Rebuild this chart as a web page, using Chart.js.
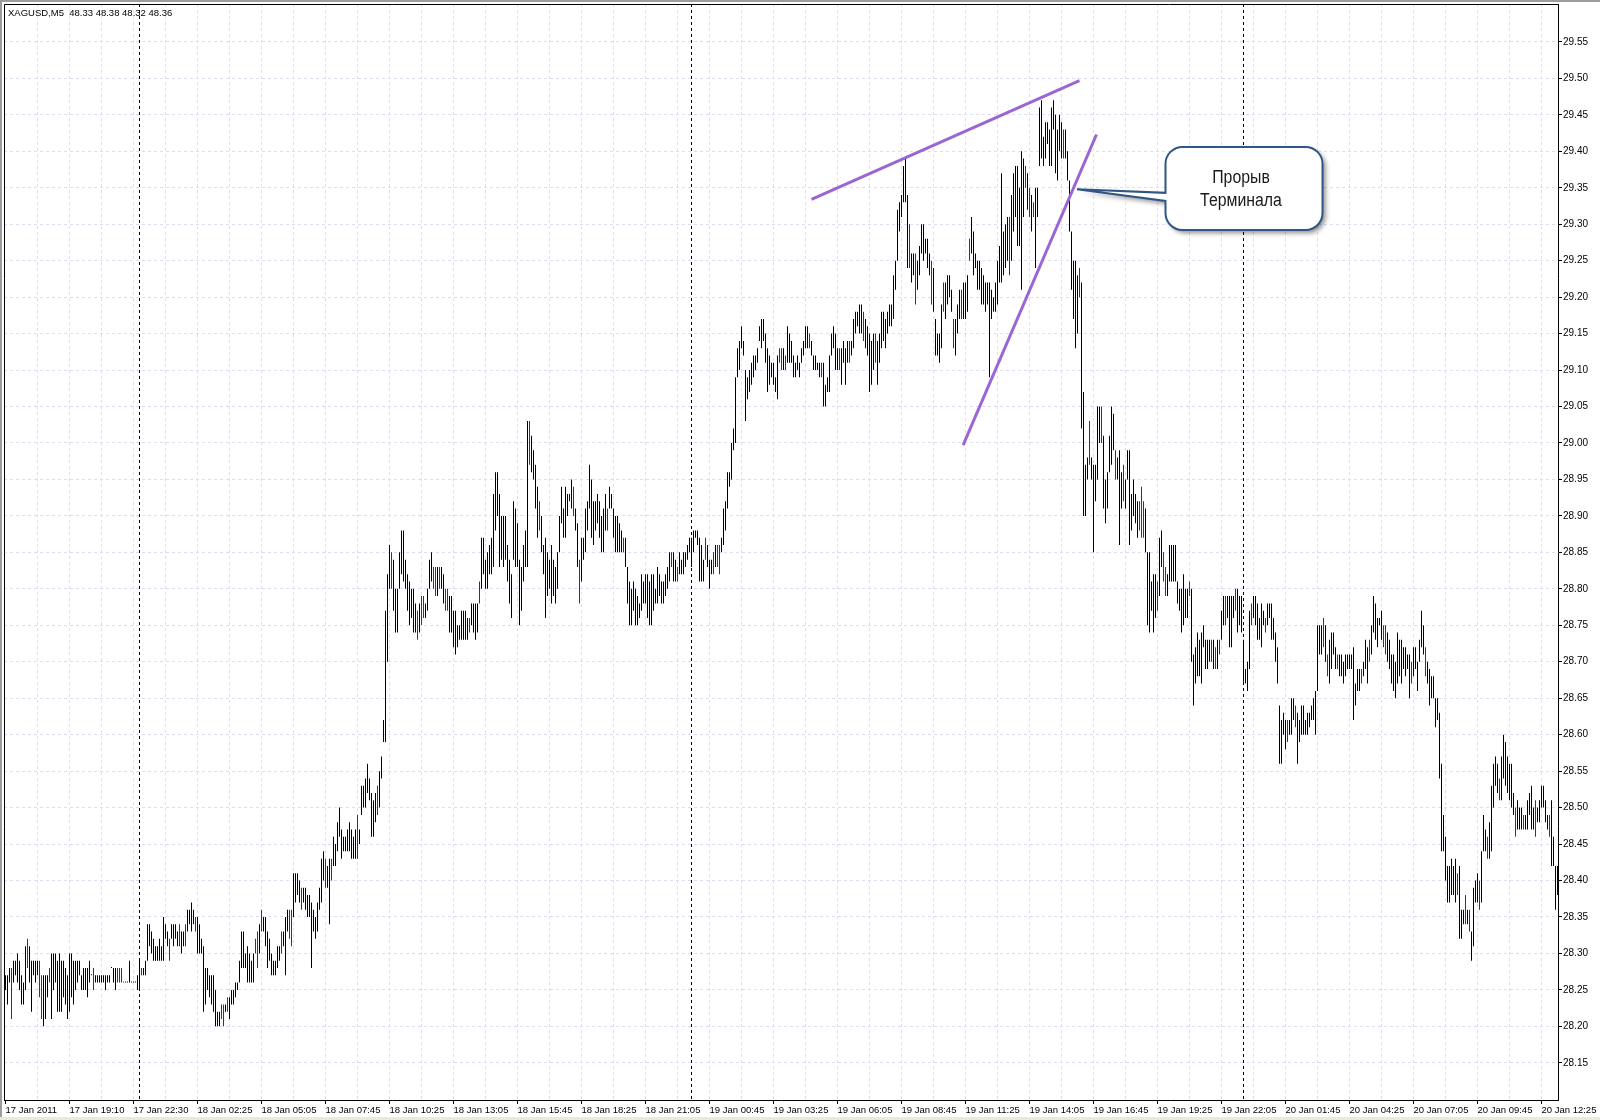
<!DOCTYPE html>
<html>
<head>
<meta charset="utf-8">
<title>XAGUSD,M5</title>
<script src="https://cdn.jsdelivr.net/npm/chart.js@4.4.1/dist/chart.umd.min.js"></script>
<style>
  html, body { margin: 0; padding: 0; background: #fff; overflow: hidden; }
  canvas { display: block; }
</style>
</head>
<body>
<canvas id="chart" width="1600" height="1120"></canvas>
<script>
// bar highs / lows, one value per bar, 16 bars per row
const highs = [
  28.27,28.27,28.28,28.28,28.29,28.29,28.30,28.29,28.27,28.26,28.31,28.32,28.31,28.29,28.29,28.29,
  28.29,28.29,28.27,28.27,28.27,28.27,28.28,28.30,28.30,28.30,28.29,28.30,28.29,28.29,28.28,28.27,
  28.30,28.30,28.29,28.29,28.29,28.29,28.27,28.28,28.28,28.28,28.29,28.27,28.28,28.27,28.27,28.27,
  28.27,28.27,28.27,28.27,28.27,28.28,28.28,28.28,28.28,28.28,28.28,28.26,28.26,28.26,28.29,28.26,
  28.26,28.26,28.27,28.29,28.28,28.28,28.29,28.34,28.34,28.33,28.32,28.31,28.31,28.32,28.31,28.35,
  28.34,28.33,28.32,28.34,28.34,28.34,28.33,28.34,28.33,28.33,28.34,28.36,28.36,28.37,28.36,28.35,
  28.35,28.34,28.32,28.31,28.28,28.28,28.27,28.27,28.27,28.25,28.22,28.22,28.23,28.23,28.23,28.24,
  28.24,28.25,28.25,28.26,28.26,28.29,28.33,28.33,28.30,28.31,28.30,28.29,28.30,28.32,28.33,28.34,
  28.36,28.35,28.35,28.33,28.32,28.30,28.29,28.29,28.31,28.31,28.33,28.33,28.35,28.36,28.36,28.36,
  28.41,28.41,28.41,28.40,28.39,28.39,28.39,28.38,28.38,28.37,28.36,28.35,28.37,28.39,28.43,28.44,
  28.43,28.42,28.43,28.43,28.46,28.45,28.48,28.50,28.47,28.46,28.46,28.47,28.48,28.47,28.46,28.47,
  28.49,28.47,28.53,28.53,28.54,28.56,28.54,28.52,28.51,28.52,28.53,28.55,28.57,28.62,28.77,28.82,
  28.86,28.85,28.84,28.80,28.80,28.85,28.88,28.88,28.84,28.82,28.81,28.80,28.80,28.78,28.77,28.78,
  28.79,28.79,28.78,28.80,28.84,28.85,28.83,28.83,28.83,28.83,28.83,28.82,28.80,28.80,28.79,28.79,
  28.77,28.77,28.75,28.75,28.77,28.77,28.77,28.76,28.76,28.78,28.78,28.78,28.78,28.81,28.87,28.87,
  28.84,28.85,28.86,28.87,28.93,28.96,28.96,28.93,28.90,28.90,28.90,28.86,28.84,28.82,28.92,28.91,
  28.89,28.84,28.83,28.86,28.88,29.03,29.03,29.01,28.99,28.97,28.94,28.92,28.90,28.86,28.87,28.85,
  28.84,28.86,28.84,28.83,28.85,28.90,28.94,28.91,28.94,28.93,28.93,28.95,28.94,28.91,28.89,28.84,
  28.87,28.87,28.91,28.92,28.97,28.95,28.92,28.92,28.93,28.92,28.90,28.91,28.93,28.91,28.94,28.93,
  28.91,28.90,28.90,28.89,28.88,28.87,28.87,28.83,28.81,28.80,28.81,28.80,28.79,28.78,28.82,28.81,
  28.82,28.82,28.81,28.82,28.82,28.80,28.83,28.82,28.81,28.81,28.82,28.83,28.85,28.85,28.85,28.84,
  28.83,28.85,28.84,28.85,28.85,28.86,28.87,28.87,28.88,28.88,28.88,28.87,28.86,28.84,28.87,28.86,
  28.84,28.84,28.85,28.86,28.86,28.86,28.87,28.91,28.92,28.96,28.96,29.00,29.02,29.09,29.13,29.14,
  29.16,29.14,29.10,29.09,29.10,29.11,29.12,29.12,29.13,29.16,29.17,29.17,29.15,29.13,29.12,29.11,
  29.11,29.09,29.12,29.13,29.13,29.13,29.12,29.16,29.15,29.14,29.12,29.11,29.12,29.11,29.13,29.14,
  29.16,29.16,29.15,29.14,29.12,29.12,29.11,29.11,29.11,29.11,29.08,29.09,29.12,29.15,29.16,29.15,
  29.13,29.13,29.13,29.14,29.13,29.14,29.14,29.14,29.17,29.18,29.18,29.19,29.19,29.18,29.17,29.16,
  29.15,29.14,29.15,29.15,29.14,29.15,29.18,29.18,29.17,29.18,29.19,29.19,29.23,29.25,29.32,29.33,
  29.34,29.38,29.39,29.34,29.30,29.26,29.26,29.26,29.25,29.27,29.30,29.30,29.28,29.28,29.26,29.25,
  29.24,29.17,29.15,29.15,29.19,29.22,29.22,29.23,29.23,29.21,29.17,29.17,29.19,29.21,29.21,29.22,
  29.22,29.23,29.28,29.31,29.29,29.26,29.25,29.25,29.24,29.23,29.22,29.22,29.22,29.21,29.20,29.22,
  29.25,29.27,29.37,29.29,29.30,29.31,29.31,29.34,29.37,29.38,29.38,29.35,29.40,29.39,29.38,29.37,
  29.35,29.34,29.33,29.35,29.35,29.46,29.47,29.42,29.44,29.44,29.43,29.46,29.47,29.45,29.43,29.45,
  29.44,29.43,29.43,29.40,29.36,29.29,29.25,29.25,29.23,29.24,29.22,29.07,28.97,28.98,29.03,28.98,
  28.97,28.97,29.05,29.05,29.05,29.01,28.95,28.96,29.01,29.05,29.04,28.99,28.98,28.99,28.96,28.97,
  28.95,28.99,28.99,28.93,28.95,28.93,28.92,28.92,28.94,28.92,28.91,28.85,28.85,28.81,28.82,28.82,
  28.81,28.87,28.88,28.85,28.83,28.82,28.86,28.86,28.86,28.86,28.81,28.80,28.80,28.82,28.80,28.80,
  28.81,28.80,28.71,28.72,28.74,28.73,28.74,28.75,28.73,28.73,28.73,28.73,28.73,28.72,28.73,28.73,
  28.77,28.79,28.79,28.79,28.79,28.79,28.79,28.80,28.80,28.79,28.79,28.73,28.69,28.70,28.77,28.78,
  28.79,28.79,28.78,28.76,28.78,28.77,28.76,28.78,28.78,28.78,28.76,28.74,28.72,28.64,28.62,28.63,
  28.62,28.62,28.62,28.65,28.65,28.64,28.63,28.62,28.64,28.64,28.62,28.63,28.63,28.64,28.65,28.66,
  28.75,28.75,28.75,28.76,28.75,28.71,28.73,28.74,28.74,28.72,28.71,28.71,28.71,28.70,28.71,28.71,
  28.71,28.71,28.72,28.67,28.69,28.69,28.69,28.70,28.73,28.72,28.73,28.75,28.79,28.78,28.76,28.76,
  28.77,28.75,28.75,28.74,28.73,28.71,28.71,28.70,28.74,28.73,28.73,28.72,28.72,28.71,28.71,28.70,
  28.72,28.72,28.70,28.73,28.77,28.75,28.72,28.70,28.69,28.68,28.68,28.65,28.65,28.63,28.56,28.49,
  28.46,28.42,28.42,28.43,28.42,28.43,28.41,28.42,28.36,28.36,28.38,28.36,28.36,28.33,28.39,28.40,
  28.41,28.40,28.44,28.49,28.47,28.46,28.48,28.53,28.56,28.57,28.56,28.54,28.57,28.60,28.59,28.57,
  28.56,28.56,28.52,28.50,28.51,28.50,28.50,28.49,28.49,28.51,28.52,28.53,28.50,28.51,28.50,28.51,
  28.53,28.53,28.51,28.49,28.49,28.51,28.46,28.42,28.42
];

const lows = [
  28.25,28.23,28.26,28.21,28.26,28.27,28.26,28.25,28.23,28.23,28.25,28.28,28.26,28.22,28.27,28.26,
  28.27,28.24,28.21,28.20,28.21,28.24,28.26,28.21,28.25,28.26,28.22,28.22,28.22,28.24,28.23,28.21,
  28.22,28.24,28.23,28.25,28.26,28.27,28.25,28.25,28.25,28.24,28.26,28.27,28.25,28.26,28.26,28.26,
  28.26,28.26,28.25,28.26,28.26,28.28,28.26,28.25,28.26,28.26,28.26,28.26,28.26,28.26,28.26,28.26,
  28.26,28.26,28.25,28.25,28.27,28.27,28.27,28.29,28.31,28.30,28.29,28.29,28.29,28.29,28.29,28.29,
  28.32,28.31,28.29,28.32,28.31,28.32,28.31,28.31,28.30,28.31,28.31,28.33,28.34,28.33,28.34,28.33,
  28.30,28.30,28.30,28.22,28.23,28.25,28.24,28.23,28.22,28.20,28.20,28.20,28.21,28.20,28.22,28.22,
  28.21,28.23,28.23,28.24,28.25,28.26,28.28,28.28,28.28,28.26,28.26,28.26,28.26,28.30,28.28,28.30,
  28.33,28.33,28.31,28.28,28.29,28.27,28.27,28.27,28.28,28.29,28.30,28.31,28.27,28.33,28.32,28.31,
  28.35,28.37,28.38,28.37,28.36,28.37,28.36,28.35,28.35,28.28,28.33,28.32,28.33,28.36,28.37,28.40,
  28.39,28.39,28.34,28.40,28.42,28.42,28.44,28.46,28.43,28.44,28.44,28.44,28.44,28.43,28.43,28.43,
  28.43,28.45,28.49,28.50,28.50,28.52,28.51,28.46,28.46,28.48,28.49,28.50,28.54,28.59,28.59,28.70,
  28.80,28.80,28.77,28.74,28.74,28.80,28.82,28.81,28.80,28.77,28.75,28.76,28.74,28.74,28.73,28.74,
  28.75,28.76,28.76,28.77,28.80,28.81,28.80,28.79,28.79,28.80,28.80,28.78,28.77,28.77,28.74,28.74,
  28.72,28.71,28.72,28.73,28.73,28.73,28.73,28.73,28.74,28.75,28.74,28.73,28.74,28.78,28.80,28.82,
  28.80,28.80,28.82,28.82,28.83,28.88,28.90,28.83,28.84,28.83,28.84,28.81,28.78,28.76,28.84,28.83,
  28.83,28.75,28.77,28.81,28.83,28.83,28.97,28.96,28.95,28.91,28.87,28.88,28.85,28.82,28.76,28.79,
  28.80,28.78,28.79,28.78,28.80,28.85,28.89,28.87,28.87,28.90,28.92,28.91,28.90,28.88,28.83,28.78,
  28.81,28.84,28.85,28.88,28.91,28.87,28.86,28.88,28.89,28.87,28.85,28.85,28.88,28.88,28.91,28.91,
  28.87,28.85,28.85,28.85,28.85,28.85,28.83,28.78,28.75,28.75,28.77,28.75,28.75,28.76,28.77,28.78,
  28.78,28.76,28.75,28.75,28.77,28.78,28.78,28.79,28.78,28.78,28.79,28.80,28.81,28.83,28.81,28.81,
  28.81,28.82,28.82,28.82,28.83,28.84,28.85,28.83,28.85,28.87,28.86,28.81,28.81,28.81,28.84,28.83,
  28.80,28.82,28.82,28.83,28.83,28.82,28.85,28.86,28.88,28.91,28.94,28.95,28.99,29.00,29.09,29.10,
  29.13,29.12,29.03,29.06,29.07,29.08,29.09,29.10,29.11,29.14,29.13,29.14,29.11,29.07,29.08,29.09,
  29.08,29.07,29.06,29.11,29.10,29.10,29.10,29.11,29.11,29.11,29.09,29.09,29.10,29.09,29.11,29.12,
  29.13,29.13,29.13,29.12,29.10,29.10,29.10,29.09,29.09,29.05,29.05,29.07,29.07,29.12,29.13,29.10,
  29.10,29.10,29.08,29.11,29.08,29.11,29.11,29.12,29.13,29.15,29.16,29.15,29.15,29.14,29.13,29.12,
  29.07,29.08,29.10,29.11,29.08,29.11,29.13,29.14,29.13,29.15,29.16,29.16,29.17,29.21,29.25,29.29,
  29.31,29.33,29.33,29.24,29.24,29.22,29.23,29.19,29.21,29.23,29.26,29.25,29.26,29.24,29.23,29.19,
  29.18,29.12,29.12,29.11,29.13,29.18,29.17,29.19,29.20,29.18,29.13,29.12,29.15,29.17,29.17,29.17,
  29.17,29.18,29.25,29.26,29.23,29.24,29.21,29.21,29.19,29.19,29.18,29.19,29.09,29.17,29.18,29.18,
  29.19,29.22,29.22,29.23,29.24,29.25,29.23,29.25,29.29,29.31,29.27,29.27,29.21,29.31,29.35,29.32,
  29.31,29.29,29.31,29.24,29.31,29.38,29.39,29.38,29.39,29.41,29.38,29.38,29.43,29.37,29.36,29.40,
  29.39,29.39,29.39,29.36,29.29,29.21,29.17,29.13,29.15,29.20,29.02,28.90,28.90,28.95,28.97,28.95,
  28.85,28.92,28.95,29.00,29.00,28.91,28.89,28.91,28.96,28.97,28.99,28.95,28.95,28.86,28.91,28.92,
  28.91,28.95,28.86,28.88,28.90,28.89,28.87,28.88,28.87,28.87,28.85,28.75,28.74,28.77,28.74,28.76,
  28.77,28.79,28.83,28.81,28.79,28.79,28.81,28.81,28.81,28.81,28.78,28.77,28.74,28.75,28.76,28.76,
  28.79,28.70,28.64,28.67,28.68,28.68,28.67,28.72,28.69,28.69,28.70,28.70,28.69,28.69,28.69,28.71,
  28.73,28.75,28.75,28.76,28.72,28.72,28.76,28.77,28.74,28.75,28.74,28.67,28.67,28.66,28.69,28.75,
  28.76,28.75,28.73,28.73,28.72,28.75,28.74,28.75,28.76,28.73,28.73,28.70,28.67,28.56,28.56,28.60,
  28.58,28.59,28.60,28.60,28.62,28.61,28.56,28.59,28.60,28.60,28.60,28.60,28.61,28.62,28.62,28.60,
  28.66,28.71,28.71,28.72,28.70,28.68,28.67,28.69,28.71,28.69,28.69,28.68,28.68,28.67,28.68,28.69,
  28.69,28.69,28.62,28.64,28.66,28.66,28.67,28.68,28.69,28.67,28.70,28.71,28.74,28.73,28.72,28.75,
  28.73,28.72,28.71,28.70,28.69,28.67,28.66,28.65,28.67,28.68,28.67,28.69,28.68,28.69,28.65,28.67,
  28.68,28.69,28.66,28.70,28.72,28.71,28.68,28.67,28.64,28.65,28.65,28.61,28.62,28.54,28.44,28.44,
  28.40,28.37,28.37,28.38,28.38,28.37,28.38,28.32,28.32,28.34,28.34,28.34,28.33,28.29,28.31,28.37,
  28.37,28.36,28.37,28.44,28.44,28.43,28.43,28.44,28.50,28.53,28.52,28.51,28.51,28.54,28.53,28.52,
  28.51,28.50,28.49,28.46,28.47,28.47,28.47,28.47,28.47,28.47,28.49,28.47,28.47,28.46,28.48,28.48,
  28.50,28.50,28.48,28.47,28.46,28.42,28.42,28.36,28.38
];

// bars that closed lower (drawn in the second bar colour)
const bearBars = [
  3, 11, 17, 18, 22, 44, 56, 57, 58, 59, 68, 82, 87, 90, 95, 108, 109, 111, 125, 126, 128, 138,
  142, 143, 148, 160, 163, 176, 186, 193, 206, 208, 209, 214, 215, 217, 220, 221, 232, 237, 262,
  267, 284, 287, 301, 309, 333, 336, 350, 354, 356, 357, 387, 388, 390, 402, 408, 417, 422, 429,
  435, 452, 455, 463, 469, 474, 478, 482, 502, 510, 512, 514, 529, 537, 542, 548, 555, 559, 567,
  568, 569, 576, 579, 580, 592, 603, 605, 607, 610, 615, 623, 630, 641, 645, 659, 661, 666, 678,
  682, 689, 690, 703, 710, 726, 730, 732, 737, 741, 747, 755, 759, 765, 772
];

// time labels, one every 32 bars
const timeLabels = [
  '17 Jan 2011', '17 Jan 19:10', '17 Jan 22:30', '18 Jan 02:25', '18 Jan 05:05', '18 Jan 07:45',
  '18 Jan 10:25', '18 Jan 13:05', '18 Jan 15:45', '18 Jan 18:25', '18 Jan 21:05', '19 Jan 00:45',
  '19 Jan 03:25', '19 Jan 06:05', '19 Jan 08:45', '19 Jan 11:25', '19 Jan 14:05', '19 Jan 16:45',
  '19 Jan 19:25', '19 Jan 22:05', '20 Jan 01:45', '20 Jan 04:25', '20 Jan 07:05', '20 Jan 09:45',
  '20 Jan 12:25'
];
const labelEvery = 32;

const priceTicks = [
  28.15, 28.20, 28.25, 28.30, 28.35, 28.40, 28.45, 28.50, 28.55, 28.60, 28.65, 28.70, 28.75, 28.80,
  28.85, 28.90, 28.95, 29.00, 29.05, 29.10, 29.15, 29.20, 29.25, 29.30, 29.35, 29.40, 29.45, 29.50, 29.55
];

// day separators (bar index)
const daySeparators = [67, 343, 619];

// hand drawn trend lines: [bar, price] -> [bar, price]
const trendLines = [
  [[403, 29.334], [537, 29.497]],
  [[478.8, 28.997], [545.5, 29.423]]
];

// callout "Прорыв Терминала"
const callout = {
  lines: ['Прорыв', 'Терминала'],
  fromBar: 580, toBar: 658.5, top: 29.406, bottom: 29.292,
  tipBar: 535.75, tipPrice: 29.348, neck: [29.343, 29.332]
};

const BAR_UP = '#000000';
const BAR_DOWN = '#55169a';
const TREND = '#9a66d4';
const GRID = '#dedef3';

const bearSet = new Set(bearBars);
const barData = highs.map((h, i) => ({ x: i, y: [lows[i], h] }));

const frame = {
  id: 'frame',
  beforeDatasetsDraw(chart) {
    const { ctx, chartArea: a, scales: { x, y } } = chart;
    ctx.save();
    ctx.lineWidth = 1;
    ctx.strokeStyle = GRID;
    ctx.setLineDash([3, 3]);
    ctx.beginPath();
    for (let b = 16; b < highs.length; b += 16) {
      const px = Math.round(x.getPixelForValue(b) - 0.5) + 0.5;
      ctx.moveTo(px, a.top);
      ctx.lineTo(px, a.bottom);
    }
    priceTicks.forEach(p => {
      const py = Math.round(y.getPixelForValue(p) - 0.5) + 0.5;
      ctx.moveTo(a.left, py);
      ctx.lineTo(a.right, py);
    });
    ctx.stroke();

    ctx.strokeStyle = '#000';
    ctx.setLineDash([3, 3]);
    ctx.beginPath();
    daySeparators.forEach(b => {
      const px = Math.round(x.getPixelForValue(b) - 0.5) + 0.5;
      ctx.moveTo(px, a.top);
      ctx.lineTo(px, a.bottom);
    });
    ctx.stroke();
    ctx.restore();
  },
  afterDraw(chart) {
    const { ctx, chartArea: a, scales: { x, y } } = chart;
    ctx.save();
    // window border
    ctx.fillStyle = '#9c9c9c';
    ctx.fillRect(0, 0, 1600, 2);
    ctx.fillRect(0, 0, 2, 1120);
    ctx.fillStyle = '#ece9d8';
    ctx.fillRect(0, 1117, 1600, 3);
    // plot frame (left / top)
    ctx.strokeStyle = '#000';
    ctx.lineWidth = 1;
    ctx.beginPath();
    ctx.moveTo(a.left + 0.5, a.bottom);
    ctx.lineTo(a.left + 0.5, a.top + 0.5);
    ctx.lineTo(a.right, a.top + 0.5);
    ctx.stroke();

    // header
    ctx.fillStyle = '#000';
    ctx.font = '9.5px "Liberation Sans", Arial, sans-serif';
    ctx.textBaseline = 'alphabetic';
    ctx.fillText('XAGUSD,M5  48.33 48.38 48.32 48.36', 8, 16);

    // callout
    const l = x.getPixelForValue(callout.fromBar), r = x.getPixelForValue(callout.toBar);
    const t = y.getPixelForValue(callout.top), b = y.getPixelForValue(callout.bottom);
    const tx = x.getPixelForValue(callout.tipBar), ty = y.getPixelForValue(callout.tipPrice);
    const n1 = y.getPixelForValue(callout.neck[0]), n2 = y.getPixelForValue(callout.neck[1]);
    const rad = 17;
    ctx.beginPath();
    ctx.moveTo(l + rad, t);
    ctx.lineTo(r - rad, t);
    ctx.arcTo(r, t, r, t + rad, rad);
    ctx.lineTo(r, b - rad);
    ctx.arcTo(r, b, r - rad, b, rad);
    ctx.lineTo(l + rad, b);
    ctx.arcTo(l, b, l, b - rad, rad);
    ctx.lineTo(l, n2);
    ctx.lineTo(tx, ty);
    ctx.lineTo(l, n1);
    ctx.lineTo(l, t + rad);
    ctx.arcTo(l, t, l + rad, t, rad);
    ctx.closePath();
    ctx.shadowColor = 'rgba(0,0,0,0.45)';
    ctx.shadowBlur = 5;
    ctx.shadowOffsetX = 3;
    ctx.shadowOffsetY = 3;
    ctx.fillStyle = '#fff';
    ctx.fill();
    ctx.shadowColor = 'transparent';
    ctx.lineWidth = 2;
    ctx.strokeStyle = '#2f5687';
    ctx.stroke();

    ctx.fillStyle = '#1a1a1a';
    ctx.font = '18px "Liberation Sans", Arial, sans-serif';
    ctx.textAlign = 'center';
    const cx = (l + r) / 2 - 3;
    callout.lines.forEach((s, k) => {
      ctx.save();
      ctx.translate(cx, t + 36 + k * 23);
      ctx.scale(0.88, 1);
      ctx.fillText(s, 0, 0);
      ctx.restore();
    });
    ctx.restore();
  }
};

Chart.defaults.font.family = '"Liberation Sans", Arial, sans-serif';
Chart.defaults.color = '#000';

new Chart(document.getElementById('chart'), {
  data: {
    datasets: [
      ...trendLines.map(seg => ({
        type: 'line',
        data: seg.map(([b, p]) => ({ x: b, y: p })),
        borderColor: TREND,
        borderWidth: 3,
        pointRadius: 0,
        fill: false,
        order: 0
      })),
      {
        type: 'bar',
        data: barData,
        backgroundColor: c => bearSet.has(c.dataIndex) ? BAR_DOWN : BAR_UP,
        borderWidth: 0,
        barThickness: 1,
        maxBarThickness: 1,
        minBarLength: 1,
        inflateAmount: 0,
        order: 1
      }
    ]
  },
  options: {
    responsive: false,
    devicePixelRatio: 1,
    animation: false,
    layout: { padding: { left: 4, top: 4, right: 0, bottom: 0 } },
    plugins: { legend: { display: false }, tooltip: { enabled: false } },
    scales: {
      x: {
        type: 'linear',
        min: -0.75,
        max: highs.length - 0.75,
        offset: false,
        afterBuildTicks: s => { s.ticks = timeLabels.map((_, k) => ({ value: k * labelEvery })); },
        afterFit: s => { s.height = 20; s.paddingLeft = 0; s.paddingRight = 0; },
        grid: { drawOnChartArea: false, drawTicks: true, tickLength: 4, tickColor: '#000', offset: false },
        border: { color: '#000', width: 1 },
        ticks: {
          autoSkip: false,
          maxRotation: 0,
          align: 'start',
          padding: 1,
          font: { size: 9.5 },
          color: '#000',
          callback: (v, i) => timeLabels[i]
        }
      },
      y: {
        position: 'right',
        min: 28.099,
        max: 29.602,
        afterBuildTicks: s => { s.ticks = priceTicks.map(v => ({ value: v })); },
        afterFit: s => { s.width = 42; s.paddingTop = 0; s.paddingBottom = 0; },
        grid: { drawOnChartArea: false, drawTicks: true, tickLength: 4, tickColor: '#000' },
        border: { color: '#000', width: 1 },
        ticks: {
          padding: 1,
          font: { size: 10 },
          color: '#000',
          callback: v => v.toFixed(2)
        }
      }
    }
  },
  plugins: [frame]
});
</script>
</body>
</html>
